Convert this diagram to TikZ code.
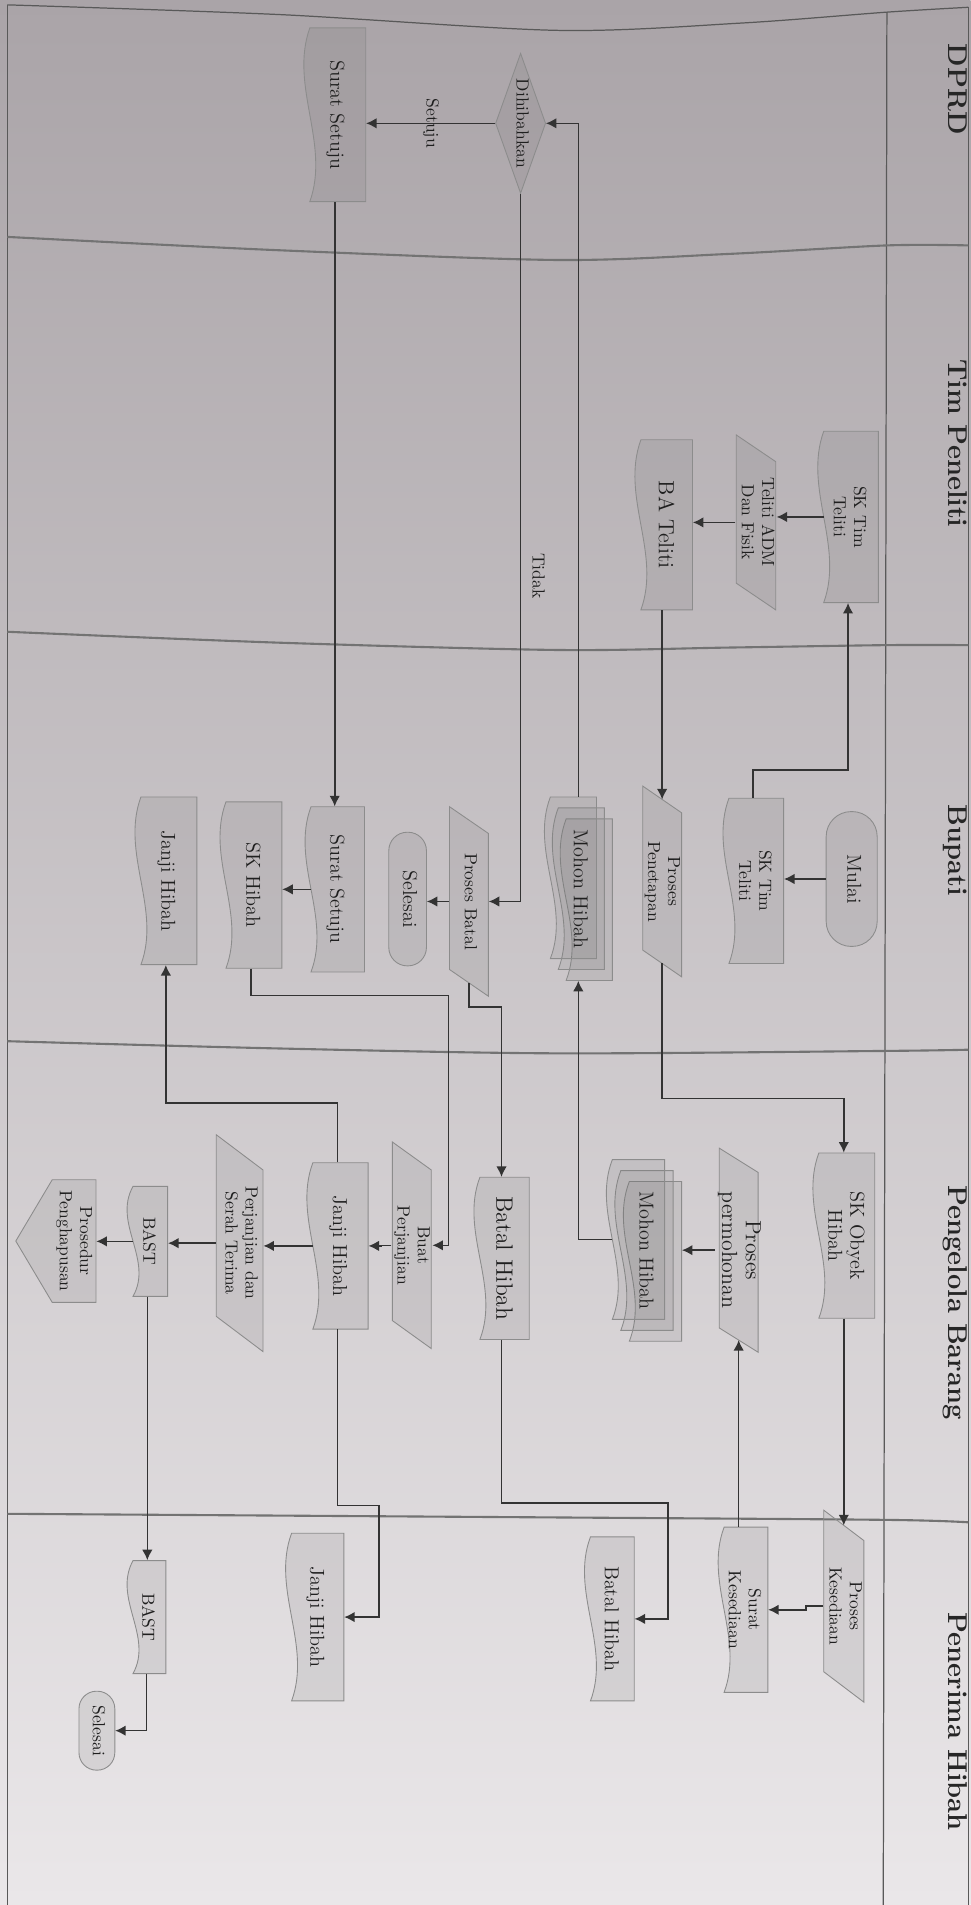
\documentclass[tikz,border=0pt]{standalone}
\usepackage{graphicx}
\usetikzlibrary{arrows.meta}

\definecolor{latAtas}{RGB}{170,164,168}
\definecolor{latTengah}{RGB}{216,212,214}
\definecolor{latBawah}{RGB}{234,231,233}

\newcommand{\satuan}{0.0243cm}
% teks diputar searah jarum jam
\newcommand{\putar}[1]{\rotatebox{-90}{\begin{tabular}{@{}c@{}}#1\end{tabular}}}

% garis dokumen, sisi bergelombang di kiri
\newcommand{\dokgaris}[4]{%
  \pgfmathsetmacro{\dokXa}{#1}\pgfmathsetmacro{\dokYa}{#2}%
  \pgfmathsetmacro{\dokXb}{#3}\pgfmathsetmacro{\dokYb}{#4}%
  \pgfmathsetmacro{\dokT}{(\dokYb-\dokYa)/3}%
  \draw[bentuk] (\dokXb,\dokYa) -- (\dokXb,\dokYb) -- ({\dokXa+5},\dokYb)
    .. controls ({\dokXa+22},{\dokYb-\dokT}) and ({\dokXa-12},{\dokYa+\dokT}) .. ({\dokXa+5},\dokYa) -- cycle;}

% dokumen: nama, x1, y1, x2, y2, huruf, teks
\newcommand{\dok}[7]{%
  \dokgaris{#2}{#3}{#4}{#5}
  \node[teks,#6,minimum width={(#4-#2)*\satuan},minimum height={(#5-#3)*\satuan}]
    (#1) at ({(#2+#4)/2},{(#3+#5)/2}) {\putar{#7}};
  \coordinate (#1-w) at ({#2+5},{(#3+#5)/2});}

% tumpukan dokumen: nama, x1, y1, x2, y2, dx, dy, huruf, teks
\newcommand{\multidok}[9]{%
  \dokgaris{#2+2*#6}{#3+2*#7}{#4+2*#6}{#5+2*#7}
  \dokgaris{#2+#6}{#3+#7}{#4+#6}{#5+#7}
  \dokgaris{#2}{#3}{#4}{#5}
  \node[teks,#8,minimum width={(#4+2*#6-#2)*\satuan},minimum height={(#5+2*#7-#3)*\satuan}]
    (#1) at ({(#2+#4+2*#6)/2},{(#3+#5+2*#7)/2}) {\putar{#9}};
  \coordinate (#1-w) at ({#2+5},{(#3+#5)/2});}

% jajar genjang: nama, x1, y1, x2, y2, geser, huruf, teks
\newcommand{\jajar}[8]{%
  \draw[bentuk] (#2,#3) -- (#4,{#3+#6}) -- (#4,#5) -- (#2,{#5-#6}) -- cycle;
  \node[teks,#7,minimum width={(#4-#2)*\satuan},minimum height={(#5-#3)*\satuan}]
    (#1) at ({(#2+#4)/2},{(#3+#5)/2}) {\putar{#8}};
  \coordinate (#1-n) at ({(#2+#4)/2},{#3+#6/2});
  \coordinate (#1-s) at ({(#2+#4)/2},{#5-#6/2});}

% terminal: nama, x1, y1, x2, y2, huruf, teks
\newcommand{\terminal}[7]{%
  \draw[bentuk, rounded corners={(#4-#2)*0.49*\satuan}] (#2,#3) rectangle (#4,#5);
  \node[teks,#6,minimum width={(#4-#2)*\satuan},minimum height={(#5-#3)*\satuan}]
    (#1) at ({(#2+#4)/2},{(#3+#5)/2}) {\putar{#7}};}

% keputusan: nama, x1, y1, x2, y2, huruf, teks
\newcommand{\belah}[7]{%
  \draw[bentuk] ({(#2+#4)/2},#3) -- (#4,{(#3+#5)/2}) -- ({(#2+#4)/2},#5) -- (#2,{(#3+#5)/2}) -- cycle;
  \node[teks,#6,minimum width={(#4-#2)*\satuan},minimum height={(#5-#3)*\satuan}]
    (#1) at ({(#2+#4)/2},{(#3+#5)/2}) {\putar{#7}};}

% penghubung halaman: nama, xujung, xbadan, x2, y1, y2, huruf, teks
\newcommand{\halaman}[8]{%
  \draw[bentuk] (#4,#5) -- (#4,#6) -- (#3,#6) -- (#2,{(#5+#6)/2}) -- (#3,#5) -- cycle;
  \node[teks,#7,minimum width={(#4-#3)*\satuan},minimum height={(#6-#5)*\satuan}]
    (#1) at ({(#3+#4)/2},{(#5+#6)/2}) {\putar{#8}};}

\tikzset{
  bentuk/.style={draw=black!45, line width=0.5pt, fill=black!60, fill opacity=0.12},
  teks/.style={inner sep=0pt, text=black!88},
  fkecil/.style={font=\fontsize{10}{11.5}\selectfont},
  fsedang/.style={font=\fontsize{11.5}{12.5}\selectfont},
  fbesar/.style={font=\fontsize{12.5}{13.5}\selectfont},
  fjumbo/.style={font=\fontsize{13.5}{15}\selectfont},
  kepala/.style={inner sep=0pt, text=black!85, font=\fontsize{15.5}{18}\selectfont\bfseries},
  panah/.style={draw=black!80, line width=0.9pt, -{Latex[length=6pt,width=6pt]}},
  lajur/.style={draw=black!55, line width=1.2pt},
  bingkai/.style={draw=black!65, line width=0.7pt}
}

\begin{document}
\begin{tikzpicture}[x=\satuan, y=-\satuan]
  \useasboundingbox (0,0) rectangle (799,1568);
  % latar kertas
  \shade[top color=latAtas, middle color=latTengah, bottom color=latBawah] (0,0) rectangle (799,1568);

  % --- Bingkai dan pembatas lajur ---
  \draw[bingkai] plot[smooth] coordinates {(6,4) (230,12) (459,25) (610,19) (730,10) (797,6)};
  \draw[bingkai] (6,4) -- (6,1568);
  \draw[bingkai] (730,10) -- (727,1568);
  \draw[bingkai] (797,6) -- (797,1568);
  \draw[lajur] plot[smooth] coordinates {(6,195) (230,206) (459,214) (600,209) (730,202) (797,202)};
  \draw[lajur] plot[smooth] coordinates {(6,520) (230,529) (459,535) (600,533) (730,531) (797,531)};
  \draw[lajur] plot[smooth] coordinates {(6,857) (230,863) (459,867) (730,865) (797,864)};
  \draw[lajur] plot[smooth] coordinates {(6,1246) (459,1249) (730,1251) (797,1253)};

  % Judul lajur
  \node[kepala] (hDprd) at (786,73.5) {\putar{DPRD}};
  \node[kepala] (hTim) at (786,365) {\putar{Tim Peneliti}};
  \node[kepala] (hBupati) at (786,700) {\putar{Bupati}};
  \node[kepala] (hPengelola) at (786,1072) {\putar{Pengelola Barang}};
  \node[kepala] (hPenerima) at (786,1417) {\putar{Penerima Hibah}};

  % --- Lajur DPRD ---
  \belah{dihibahkan}{408}{44}{449}{159}{fkecil}{Dihibahkan}
  \dok{setujuDPRD}{250}{23}{301}{166}{fsedang}{Surat Setuju}

  % --- Lajur Tim Peneliti ---
  \dok{skTimTP}{673}{355}{723}{496}{fkecil}{SK Tim\\Teliti}
  \jajar{telitiAdm}{606}{358}{638.5}{502}{22}{fkecil}{Teliti ADM\\Dan Fisik}
  \dok{baTeliti}{522.5}{362}{570}{502}{fbesar}{BA Teliti}

  % --- Lajur Bupati ---
  \terminal{mulai}{680}{668}{722}{779}{fsedang}{Mulai}
  \dok{skTimB}{595}{657}{645}{793}{fkecil}{SK Tim\\Teliti}
  \jajar{penetapan}{529}{647}{561}{804}{22}{fkecil}{Proses\\Penetapan}
  \multidok{mohonB}{448}{656}{491}{789}{6.5}{9}{fsedang}{Mohon Hibah}
  \jajar{prosesBatal}{370}{664}{402}{820}{22}{fkecil}{Proses Batal}
  \terminal{selesaiB}{320}{685}{351}{795}{fsedang}{Selesai}
  \dok{setujuB}{251}{664}{300}{800}{fsedang}{Surat Setuju}
  \dok{skHibah}{181}{660}{232}{797}{fsedang}{SK Hibah}
  \dok{janjiB}{111}{656}{162}{794}{fsedang}{Janji Hibah}

  % --- Lajur Pengelola Barang ---
  \dok{skObyek}{669}{949}{720}{1085}{fsedang}{SK Obyek\\Hibah}
  \jajar{permohonan}{592}{945}{624}{1113}{20}{fbesar}{Proses\\permohonan}
  \multidok{mohonP}{499}{954.5}{547}{1086}{7}{9}{fsedang}{Mohon Hibah}
  \dok{batalHibahP}{390}{969}{435.6}{1102.5}{fjumbo}{Batal Hibah}
  \jajar{buatPerjanjian}{323}{940}{355}{1110}{23}{fkecil}{Buat\\Perjanjian}
  \dok{janjiP}{252.5}{957}{303}{1094}{fsedang}{Janji Hibah}
  \jajar{serahTerima}{178}{934}{216.5}{1112.5}{29}{fkecil}{Perjanjian dan\\Serah Terima}
  \dok{bastP}{104.5}{976.5}{138}{1067}{fkecil}{BAST}
  \halaman{penghapusan}{13}{43}{79}{971}{1072}{fkecil}{Prosedur\\Penghapusan}

  % --- Lajur Penerima Hibah ---
  \jajar{prosesKesediaan}{678}{1243}{711}{1401}{25}{fkecil}{Proses\\Kesediaan}
  \dok{suratKesediaan}{591}{1257}{632}{1393}{fkecil}{Surat\\Kesediaan}
  \dok{batalHibahR}{481}{1265}{522}{1400}{fsedang}{Batal Hibah}
  \dok{janjiR}{235}{1262}{283}{1400}{fsedang}{Janji Hibah}
  \dok{bastR}{104.5}{1284.5}{136.5}{1377.5}{fkecil}{BAST}
  \terminal{selesaiR}{65}{1392}{94.5}{1457}{fkecil}{Selesai}

  % --- Alur ---
  \draw[panah] (mulai.west) -- (mulai.west -| skTimB.east);
  \draw[panah] (skTimB.north) -- ++(0,-23) -| (skTimTP.south);
  \draw[panah] (skTimTP-w) -- (skTimTP-w -| telitiAdm.east);
  \draw[panah] (telitiAdm.west) -- (telitiAdm.west -| baTeliti.east);
  \draw[panah] (baTeliti.south -| penetapan-n) -- (penetapan-n);
  \draw[panah] (penetapan-s) -- ++(0,111) -| (skObyek.north);
  \draw[panah] (skObyek.south) -- (skObyek.south |- prosesKesediaan-n);
  \draw[panah] (prosesKesediaan.west) -- ++(-14,0) |- (suratKesediaan.east);
  \draw[panah] (permohonan-s |- suratKesediaan.north) -- (permohonan-s);
  \draw[panah] (permohonan.west) -- (permohonan.west -| mohonP.east);
  \draw[panah] (mohonP-w) -| (mohonB.south);
  \draw[panah] (mohonB.north) |- (dihibahkan.east);
  \draw[panah] (dihibahkan.west) -- node[teks, fkecil] (lblSetuju) {\putar{Setuju}} (dihibahkan.west -| setujuDPRD.east);
  \draw[panah] (dihibahkan.south) |- node[teks, fkecil, pos=0.27, right=3pt] (lblTidak) {\putar{Tidak}} (prosesBatal.east);
  \draw[panah] (prosesBatal.west) -- (prosesBatal.west -| selesaiB.east);
  \draw[panah] (prosesBatal-s) -- ++(0,20) -| (batalHibahP.north);
  \draw[panah] (setujuDPRD.south) -- (setujuB.north);
  \draw[panah] (setujuB-w) -- (setujuB-w -| skHibah.east);
  \draw[panah] (skHibah.south) -- ++(0,22) -- ++(162.5,0) |- (buatPerjanjian.east);
  \draw[panah] (buatPerjanjian.west) -- ++(-8,0) |- (janjiP.east);
  \draw[panah] (janjiP.north) -- ++(0,-49) -| (janjiB.south);
  \draw[panah] (janjiP.south) -- ++(0,145) -- ++(34.25,0) |- (janjiR.east);
  \draw[panah] (janjiP-w) -- (janjiP-w -| serahTerima.east);
  \draw[panah] (serahTerima.west) -- (serahTerima.west -| bastP.east);
  \draw[panah] (bastP-w) -- (bastP-w -| penghapusan.east);
  \draw[panah] (bastP.south) -- (bastP.south |- bastR.north);
  \draw[panah] (bastR.south) |- (selesaiR.east);
  \draw[panah] (batalHibahP.south) -- ++(0,134.5) -- ++(137,0) |- (batalHibahR.east);
\end{tikzpicture}
\end{document}
